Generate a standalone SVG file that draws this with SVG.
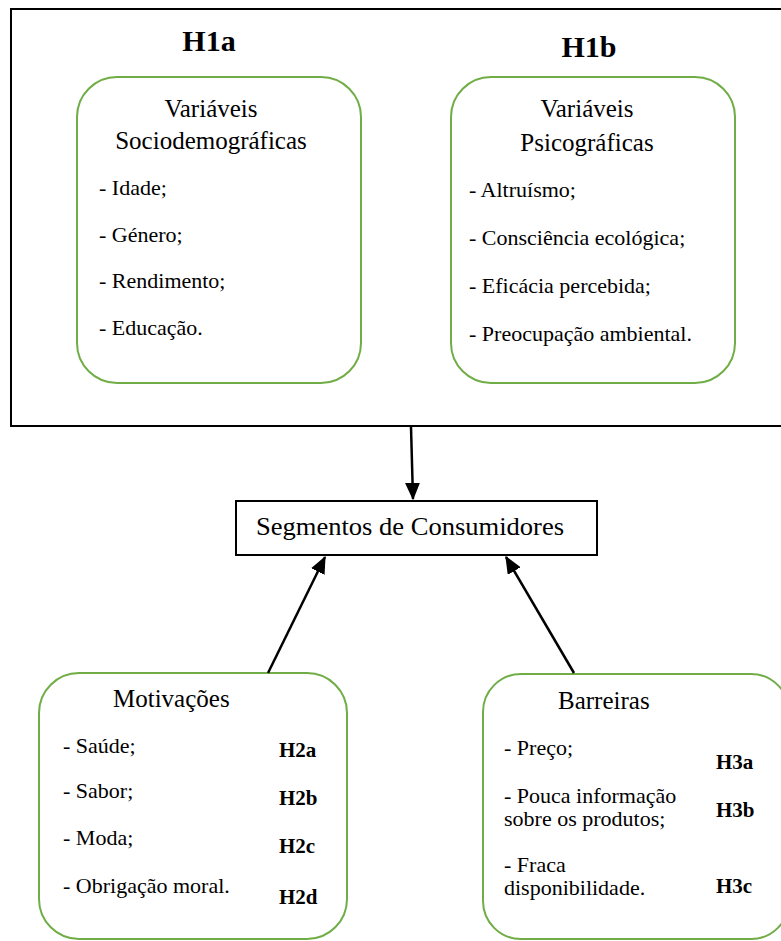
<svg xmlns="http://www.w3.org/2000/svg" width="781" height="941" viewBox="0 0 781 941" font-family="'Liberation Serif', 'Times New Roman', Times, serif">
<defs>
<style>
text{font-family:'Liberation Serif','Times New Roman',Times,serif;fill:#000}
.h{font-size:30px;font-weight:bold;text-anchor:middle}
.t{font-size:25px}
.c{text-anchor:middle}
.l{font-size:22px}
.b{font-size:21px;font-weight:bold}
.g{fill:#fff;stroke:#70AD47;stroke-width:2}
.k{fill:#fff;stroke:#000;stroke-width:2}
.a{stroke:#000;stroke-width:2.5;fill:none;marker-end:url(#ah)}
</style>
<marker id="ah" markerWidth="7" markerHeight="6" refX="6.5" refY="3" orient="auto" markerUnits="strokeWidth">
<path d="M0,0 L7,3 L0,6 Z" fill="#000"/>
</marker>
</defs>
<rect id="outer" x="11" y="9" width="790" height="417" fill="#fff" stroke="#000" stroke-width="2"/>
<g id="h1a">
<text class="h" x="209" y="51">H1a</text>
<rect class="g" x="77" y="77" width="284" height="306" rx="40"/>
<text class="t c" x="211" y="117">Variáveis</text>
<text class="t c" x="211" y="149">Sociodemográficas</text>
<text class="l" x="99" y="195">- Idade;</text>
<text class="l" x="99" y="242">- Género;</text>
<text class="l" x="99" y="288">- Rendimento;</text>
<text class="l" x="99" y="335">- Educação.</text>
</g>
<g id="h1b">
<text class="h" x="589" y="57">H1b</text>
<rect class="g" x="451" y="77" width="284" height="306" rx="40"/>
<text class="t c" x="587" y="117">Variáveis</text>
<text class="t c" x="587" y="151">Psicográficas</text>
<text class="l" x="469" y="197">- Altruísmo;</text>
<text class="l" x="469" y="245">- Consciência ecológica;</text>
<text class="l" x="469" y="293">- Eficácia percebida;</text>
<text class="l" x="469" y="341">- Preocupação ambiental.</text>
</g>
<g id="segmentos">
<rect class="k" x="236" y="501" width="361" height="54"/>
<text class="t" x="256" y="535" textLength="308" lengthAdjust="spacingAndGlyphs">Segmentos de Consumidores</text>
</g>
<g id="motivacoes">
<rect class="g" x="39" y="673" width="308" height="266" rx="40"/>
<text class="t" x="113" y="707">Motivações</text>
<text class="l" x="63" y="753">- Saúde;</text>
<text class="l" x="63" y="798">- Sabor;</text>
<text class="l" x="63" y="845">- Moda;</text>
<text class="l" x="63" y="893">- Obrigação moral.</text>
<text class="b" x="279" y="757">H2a</text>
<text class="b" x="279" y="805">H2b</text>
<text class="b" x="279" y="853">H2c</text>
<text class="b" x="279" y="904">H2d</text>
</g>
<g id="barreiras">
<rect class="g" x="483" y="674" width="306" height="265" rx="38"/>
<text class="t" x="558" y="709">Barreiras</text>
<text class="l" x="504" y="755">- Preço;</text>
<text class="l" x="504" y="803">- Pouca informação</text>
<text class="l" x="504" y="826">sobre os produtos;</text>
<text class="l" x="504" y="872">- Fraca</text>
<text class="l" x="504" y="895">disponibilidade.</text>
<text class="b" x="716" y="769">H3a</text>
<text class="b" x="716" y="817">H3b</text>
<text class="b" x="716" y="893">H3c</text>
</g>
<g id="connectors">
<line class="a" x1="411" y1="427" x2="413" y2="499"/>
<line class="a" x1="268" y1="673" x2="325" y2="557"/>
<line class="a" x1="574" y1="673" x2="506" y2="557"/>
</g>
</svg>
